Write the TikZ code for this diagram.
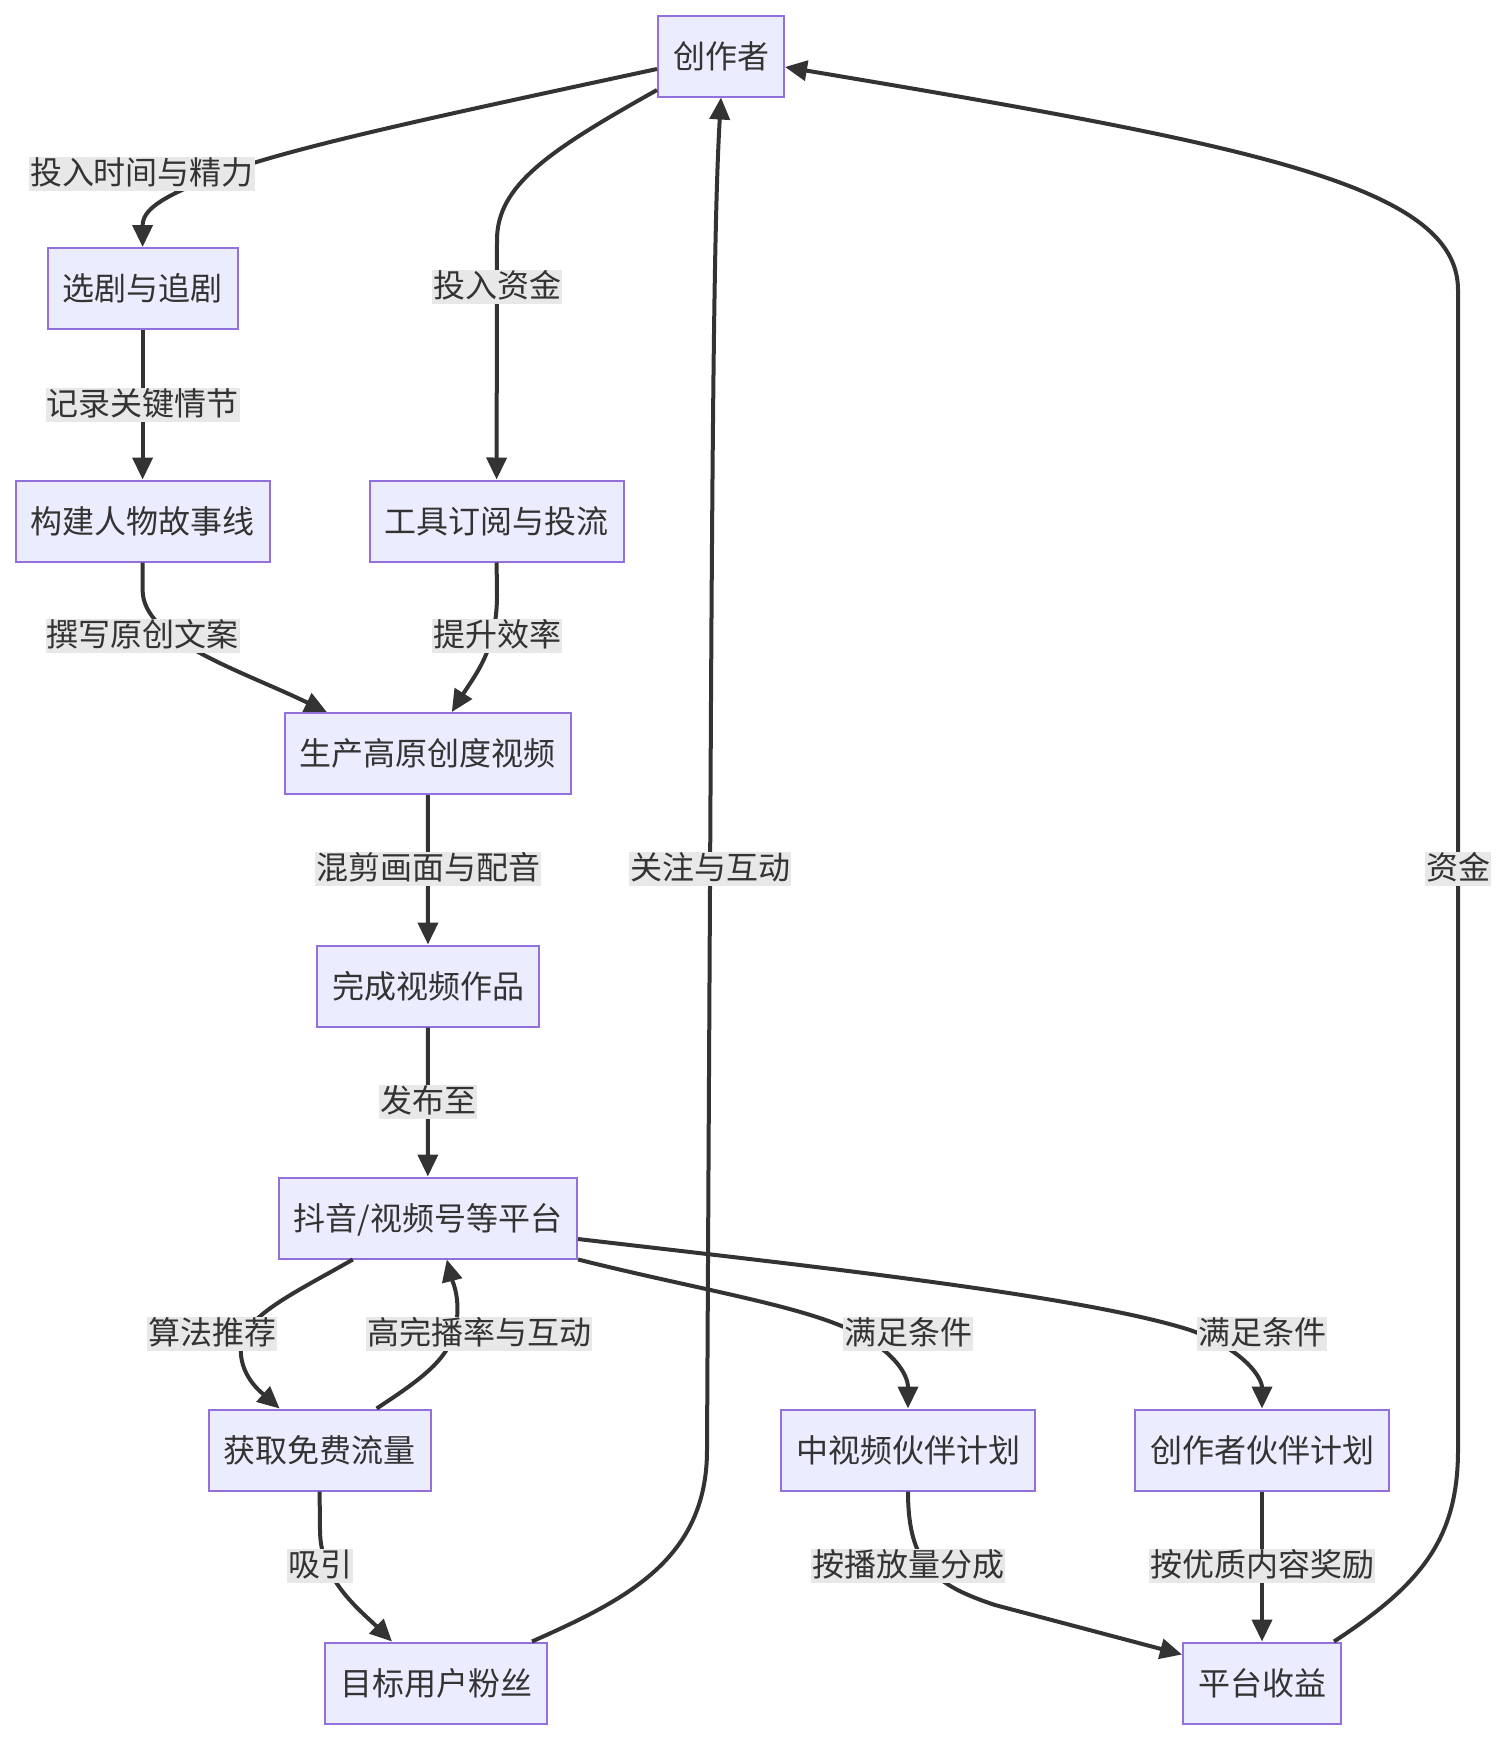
\documentclass[tikz,border=0pt]{standalone}
\usepackage{fontspec}
\setmainfont{Noto Sans CJK SC}
\usetikzlibrary{arrows.meta}
\definecolor{nodefill}{HTML}{ECECFF}
\definecolor{nodeline}{HTML}{9370DB}
\definecolor{edgecol}{HTML}{333333}
\definecolor{lblbg}{HTML}{E8E8E8}
\definecolor{txt}{HTML}{333333}
\begin{document}
\begin{tikzpicture}[x=0.5pt,y=-0.5pt,
 box/.style={draw=nodeline, fill=nodefill, line width=1pt, minimum height=40.5pt, inner xsep=7.5pt, text height=14pt, text depth=2pt, font=\fontsize{16pt}{19pt}\selectfont, text=txt},
 lbl/.style={fill=lblbg, inner xsep=0.5pt, inner ysep=0.5pt, text height=13pt, text depth=3pt, font=\fontsize{16pt}{19pt}\selectfont, text=txt},
 edge/.style={draw=edgecol, line width=2pt, -{Triangle[length=11pt,width=10pt]}}]
\useasboundingbox (0,0) rectangle (1508,1740);
\fill[white] (0,0) rectangle (1508,1740);

\node[box] (cz) at (721,56) {创作者};
\node[box] (xj) at (142.6,288.5) {选剧与追剧};
\node[box] (gj) at (142.6,521) {构建人物故事线};
\node[box] (gy) at (496.6,521) {工具订阅与投流};
\node[box] (sc) at (427.8,753.5) {生产高原创度视频};
\node[box] (wc) at (428,986) {完成视频作品};
\node[box] (dy) at (427.8,1218) {抖音/视频号等平台};
\node[box] (hq) at (319.6,1450) {获取免费流量};
\node[box] (zsp) at (908,1450) {中视频伙伴计划};
\node[box] (czh) at (1262,1450) {创作者伙伴计划};
\node[box] (mb) at (436,1683) {目标用户粉丝};
\node[box] (sy) at (1262,1683) {平台收益};

\draw[edge] ([yshift=-6.5pt]cz.west) .. controls (420,120) and (280,150) .. (210,178) .. controls (160,198) and (142.6,210) .. (xj.north);
\draw[edge] ([yshift=3.75pt]cz.south west) .. controls (550,150) and (497,185) .. (497,240) -- (gy.north);
\draw[edge] (xj) -- (gj);
\draw[edge] (gj.south) -- (142.6,590) .. controls (142.6,640) and (240,670) .. ([xshift=-50.5pt]sc.north);
\draw[edge] (gy.south) -- (497,595) .. controls (497,650) and (475,675) .. ([xshift=12pt]sc.north);
\draw[edge] (sc) -- (wc);
\draw[edge] (wc) -- (dy);
\draw[edge] ([xshift=-37.5pt]dy.south) .. controls (300,1290) and (245,1315) .. (241,1345) .. controls (238,1375) and (262,1393) .. ([xshift=-20pt]hq.north);
\draw[edge] ([xshift=28.5pt]hq.north) .. controls (420,1380) and (448,1360) .. (455,1330) .. controls (462,1300) and (452,1280) .. ([xshift=9.5pt]dy.south);
\draw[edge] (dy.south east) .. controls (700,1290) and (800,1305) .. (855,1332) .. controls (895,1352) and (908,1375) .. (zsp.north);
\draw[edge] ([yshift=-10.5pt]dy.east) .. controls (800,1265) and (1080,1295) .. (1190,1330) .. controls (1245,1350) and (1262,1378) .. (czh.north);
\draw[edge] (hq.south) -- (320,1530) .. controls (320,1580) and (360,1610) .. ([xshift=-22pt]mb.north);
\draw[edge] ([xshift=48pt]mb.north) .. controls (625,1600) and (707,1560) .. (707,1450) -- (711,700) .. controls (713,350) and (715,200) .. (cz.south);
\draw[edge] (zsp.south) .. controls (908,1565) and (935,1585) .. (995,1605) -- ([yshift=-6.5pt]sy.north west);
\draw[edge] (czh) -- (sy);
\draw[edge] ([xshift=36pt]sy.north) .. controls (1420,1585) and (1458,1540) .. (1458,1450) -- (1458,290) .. controls (1458,185) and (1250,145) .. ([yshift=-5.5pt]cz.east);

\node[lbl] (l1) at (142,174) {投入时间与精力};
\node[lbl] (l2) at (497,287) {投入资金};
\node[lbl] (l3) at (142.6,405) {记录关键情节};
\node[lbl] (l4) at (142.6,636) {撰写原创文案};
\node[lbl] (l5) at (497,636) {提升效率};
\node[lbl] (l6) at (428,869) {混剪画面与配音};
\node[lbl] (l7) at (428,1102) {发布至};
\node[lbl] (l8) at (212,1334) {算法推荐};
\node[lbl] (l9) at (479,1334) {高完播率与互动};
\node[lbl] (l10) at (908,1334) {满足条件};
\node[lbl] (l11) at (1262,1334) {满足条件};
\node[lbl] (l12) at (320,1566) {吸引};
\node[lbl] (l13) at (710,869) {关注与互动};
\node[lbl] (l14) at (908,1566) {按播放量分成};
\node[lbl] (l15) at (1262,1566) {按优质内容奖励};
\node[lbl] (l16) at (1458,869) {资金};
\end{tikzpicture}
\end{document}
